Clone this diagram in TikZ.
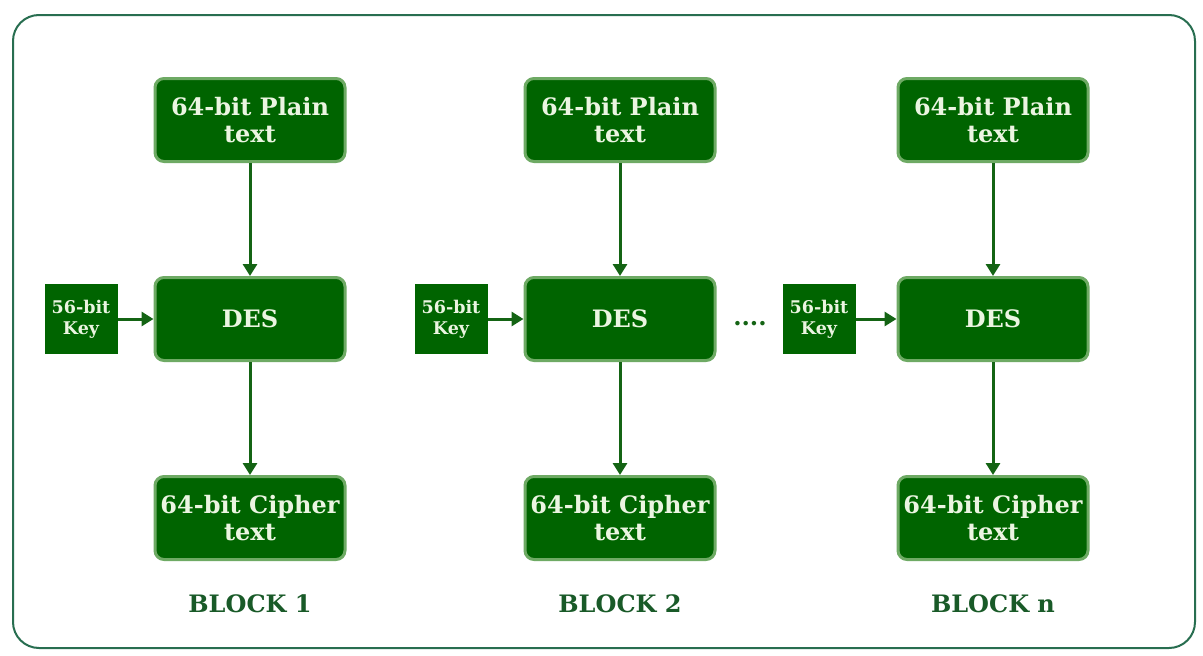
\documentclass[tikz,border=0pt]{standalone}
\usepackage{fontspec}
\setmainfont{DejaVu Serif}
\usetikzlibrary{arrows.meta}
\definecolor{boxfill}{RGB}{0,100,0}
\definecolor{boxedge}{RGB}{110,170,100}
\definecolor{boxtext}{RGB}{235,245,225}
\definecolor{arrowc}{RGB}{20,100,20}
\definecolor{framec}{RGB}{40,110,80}
\definecolor{labelc}{RGB}{25,90,40}
\tikzset{
  stage/.style={draw=boxedge, line width=3pt, fill=boxfill, rounded corners=9pt,
    minimum width=190pt, minimum height=83pt, inner sep=2pt, align=center, text=boxtext,
    font=\fontsize{24}{27}\selectfont\bfseries},
  keybox/.style={fill=boxfill, minimum width=73pt, minimum height=70pt, align=center,
    text=boxtext, inner sep=0pt, font=\fontsize{17.5}{21}\selectfont\bfseries},
  flow/.style={draw=arrowc, line width=3pt, -{Triangle[length=12pt,width=14pt]}},
  blocklabel/.style={text=labelc, font=\fontsize{24}{28}\selectfont\bfseries}
}
\begin{document}
\begin{tikzpicture}[x=1pt,y=-1pt]
  \useasboundingbox (0,0) rectangle (1203,656);
  \fill[white] (0,0) rectangle (1203,656);
  % outer frame
  \draw[framec, line width=2pt, rounded corners=26pt] (13,15) rectangle (1195,648);

  % three blocks
  \foreach \cx/\kx/\lab/\i in {250/81/BLOCK 1/1, 620/451/BLOCK 2/2, 993/819/BLOCK n/3}{
    \node[stage] (plain\i) at (\cx,120) {64-bit Plain\\text};
    \node[stage] (des\i) at (\cx,319) {DES};
    \node[stage] (ciph\i) at (\cx,518) {64-bit Cipher\\text};
    \node[keybox] (key\i) at (\kx,319) {56-bit\\Key};
    \node[blocklabel] (blk\i) at (\cx,604) {\lab};
    \draw[flow] (plain\i) -- (des\i);
    \draw[flow] (des\i) -- (ciph\i);
    \draw[flow] (key\i) -- (des\i);
  }
  % ellipsis between the second and last block
  \node[text=arrowc, font=\fontsize{24}{26}\selectfont\bfseries] (dots) at (750,324) {....};
\end{tikzpicture}
\end{document}
